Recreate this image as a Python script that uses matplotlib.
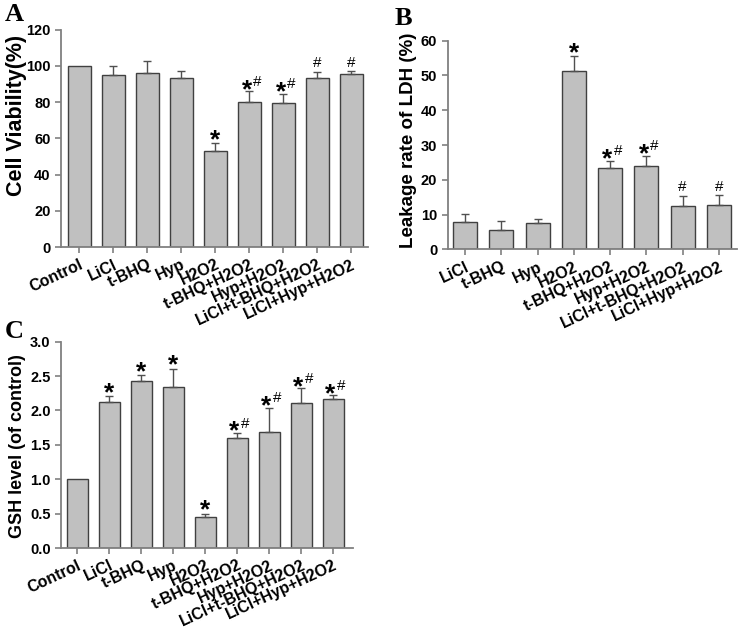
import numpy as np
import matplotlib.pyplot as plt

plt.rcParams['font.family'] = ['Liberation Sans', 'DejaVu Sans']
plt.rcParams['font.weight'] = 'bold'

# --- data ---
groups = ['Control', 'LiCl', 't-BHQ', 'Hyp', 'H2O2', 't-BHQ+H2O2',
          'Hyp+H2O2', 'LiCl+t-BHQ+H2O2', 'LiCl+Hyp+H2O2']

viability = [100, 94.9, 96.2, 93.2, 53.2, 80.1, 79.6, 93.5, 95.7]
viability_err = [0, 5.0, 6.2, 4.0, 4.3, 5.8, 5.1, 3.3, 1.3]
viability_sig = ['', '', '', '', '*', '*#', '*#', '#', '#']

groups_ldh = groups[1:]
ldh = [8.0, 5.6, 7.5, 51.4, 23.5, 23.9, 12.5, 12.9]
ldh_err = [2.1, 2.5, 1.3, 4.2, 2.0, 3.0, 3.0, 2.8]
ldh_sig = ['', '', '', '*', '*#', '*#', '#', '#']

gsh = [1.0, 2.13, 2.43, 2.34, 0.45, 1.60, 1.69, 2.11, 2.16]
gsh_err = [0, 0.08, 0.08, 0.27, 0.05, 0.07, 0.35, 0.21, 0.06]
gsh_sig = ['', '*', '*', '*', '*', '*#', '*#', '*#', '*#']

bar_color = '#c0c0c0'
edge_color = '#404040'
axis_color = '#808080'


def bar_panel(ax, labels, vals, errs, sigs, ylim, ystep, xlim, ylabel, label_size, label_xy):
    x = np.arange(len(labels))
    ax.bar(x, vals, width=0.66, color=bar_color, edgecolor=edge_color, linewidth=1.0, zorder=2)
    errs = np.array(errs, dtype=float)
    vals = np.array(vals, dtype=float)
    has = errs > 0
    ax.errorbar(x[has], vals[has], yerr=[np.zeros(has.sum()), errs[has]], fmt='none',
                ecolor='#505050', elinewidth=1.0, capsize=2.6, capthick=1.0, zorder=3)

    # significance marks above the error bars
    for i, s in enumerate(sigs):
        top = vals[i] + errs[i]
        if s == '*':
            ax.annotate('*', xy=(i, top), xytext=(0, -3), textcoords='offset points',
                        ha='center', va='baseline', fontsize=19, fontweight='bold')
        elif s == '#':
            ax.annotate('#', xy=(i, top), xytext=(0, 3), textcoords='offset points',
                        ha='center', va='baseline', fontsize=11, fontweight='normal')
        elif s == '*#':
            ax.annotate('*', xy=(i, top), xytext=(-2, -4), textcoords='offset points',
                        ha='center', va='baseline', fontsize=19, fontweight='bold')
            ax.annotate('#', xy=(i, top), xytext=(5.5, 4), textcoords='offset points',
                        ha='center', va='baseline', fontsize=11, fontweight='normal')

    ax.set_xlim(*xlim)
    ax.set_ylim(*ylim)
    ax.set_yticks(np.arange(ylim[0], ylim[1] + ystep / 2, ystep))
    ax.set_xticks(x)
    ax.set_xticklabels(labels, rotation=25, ha='right', rotation_mode='anchor', fontsize=11.5)
    ax.tick_params(axis='y', labelsize=10.5, length=4, color=axis_color, width=1.2)
    ax.tick_params(axis='x', length=4, color=axis_color, width=1.2, pad=3)
    for side in ['top', 'right']:
        ax.spines[side].set_visible(False)
    for side in ['left', 'bottom']:
        ax.spines[side].set_color(axis_color)
        ax.spines[side].set_linewidth(1.3)
    ax.set_ylabel(ylabel, fontsize=label_size, fontweight='bold')
    ax.yaxis.set_label_coords(*label_xy)


fig = plt.figure(figsize=(7.4, 6.31), dpi=100)

ax_a = fig.add_axes([0.0824, 0.6082, 0.415, 0.345])
bar_panel(ax_a, groups, viability, viability_err, viability_sig, (0, 120), 20,
          (-0.54, 8.49), 'Cell Viability(%)', 15.5, (-0.11, 0.607))

ax_b = fig.add_axes([0.605, 0.6046, 0.3905, 0.331])
bar_panel(ax_b, groups_ldh, ldh, ldh_err, ldh_sig, (0, 60), 10,
          (-0.48, 7.49), 'Leakage rate of LDH (%)', 13.5, (-0.106, 0.524))

ax_c = fig.add_axes([0.0824, 0.1315, 0.3946, 0.327])
bar_panel(ax_c, groups, gsh, gsh_err, gsh_sig, (0, 3.0), 0.5,
          (-0.51, 8.62), 'GSH level (of control)', 13, (-0.12, 0.494))
ax_c.yaxis.set_major_formatter(plt.FormatStrFormatter('%.1f'))

for letter, (px, py) in zip('ABC', [(5, 21), (395, 25), (5, 338)]):
    fig.text(px / 740, 1 - py / 631, letter, family='Liberation Serif',
             fontweight='bold', fontsize=19, va='baseline')

fig.savefig('out.png', dpi=100)
